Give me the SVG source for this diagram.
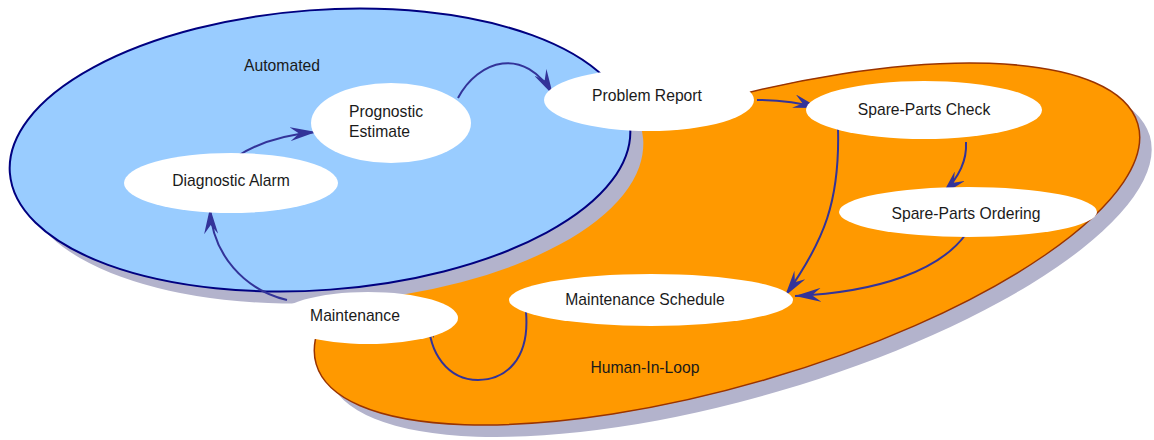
<svg xmlns="http://www.w3.org/2000/svg" width="1154" height="440" viewBox="0 0 1154 440">
  <style>
    .shadow { fill: #b3b3cc; stroke: none; }
    .node { fill: #ffffff; stroke: none; }
    .label { font-family: "Liberation Sans", Arial, sans-serif; font-size: 15.7px; fill: #1a1a1a; text-anchor: middle; }
    .left { text-anchor: start; }
    .edge { fill: none; stroke: #333399; stroke-width: 2; marker-end: url(#arrow); }
  </style>
  <defs>
    <marker id="arrow" markerUnits="userSpaceOnUse" markerWidth="27" markerHeight="14" refX="26" refY="7" orient="auto">
      <path d="M0,0 L26,7 L0,14 L9,7 z" fill="#333399"/>
    </marker>
  </defs>
  <rect width="1154" height="440" fill="#ffffff"/>

  <!-- regions: shadow first, then the filled outline -->
  <g id="region-human">
    <ellipse class="shadow" cx="739" cy="256" rx="428" ry="141" transform="rotate(-16.3 739 256)"/>
    <ellipse cx="727" cy="244" rx="428" ry="141" transform="rotate(-16.3 727 244)" fill="#ff9900" stroke="#993300" stroke-width="1.5"/>
    <text class="label" x="645" y="373">Human-In-Loop</text>
  </g>
  <g id="region-automated">
    <ellipse class="shadow" cx="333" cy="162" rx="311" ry="140" transform="rotate(-4.2 333 162)"/>
    <ellipse cx="320" cy="150" rx="311" ry="140" transform="rotate(-4.2 320 150)" fill="#99ccff" stroke="#000080" stroke-width="2"/>
    <text class="label" x="282" y="71">Automated</text>
  </g>

  <!-- connectors -->
  <g id="connectors">
    <path class="edge" d="M236,157 Q268,136 316,132"/>
    <path class="edge" d="M458,98 C478,60 525,45 553,95"/>
    <path class="edge" d="M757,100 Q790,100 819,108"/>
    <path class="edge" d="M838,128 C840,200 825,240 785,296"/>
    <path class="edge" d="M966,142 C967,160 960,176 942,195"/>
    <path class="edge" d="M966,234 C940,270 880,292 795,296"/>
    <path class="edge" d="M526,312 C530,360 505,380 478,380 C450,380 426,355 429,312"/>
    <path class="edge" d="M287,300 C245,290 212,255 210,208"/>
  </g>

  <!-- nodes -->
  <g id="node-diagnostic-alarm">
    <ellipse class="node" cx="231" cy="183" rx="107" ry="30"/>
    <text class="label" x="231" y="186">Diagnostic Alarm</text>
  </g>
  <g id="node-prognostic-estimate">
    <ellipse class="node" cx="391" cy="123" rx="80" ry="40"/>
    <text class="label left" x="349" y="117">Prognostic</text>
    <text class="label left" x="349" y="137">Estimate</text>
  </g>
  <g id="node-problem-report">
    <ellipse class="node" cx="649" cy="100" rx="105" ry="31"/>
    <text class="label" x="647" y="101">Problem Report</text>
  </g>
  <g id="node-spare-parts-check">
    <ellipse class="node" cx="924" cy="110" rx="118" ry="29"/>
    <text class="label" x="924" y="115">Spare-Parts Check</text>
  </g>
  <g id="node-spare-parts-ordering">
    <ellipse class="node" cx="968" cy="212" rx="129" ry="25"/>
    <text class="label" x="966" y="219">Spare-Parts Ordering</text>
  </g>
  <g id="node-maintenance-schedule">
    <ellipse class="node" cx="651" cy="300" rx="142" ry="26"/>
    <text class="label" x="645" y="305">Maintenance Schedule</text>
  </g>
  <g id="node-maintenance">
    <ellipse class="node" cx="368" cy="318" rx="90" ry="26"/>
    <text class="label" x="355" y="321">Maintenance</text>
  </g>
</svg>
